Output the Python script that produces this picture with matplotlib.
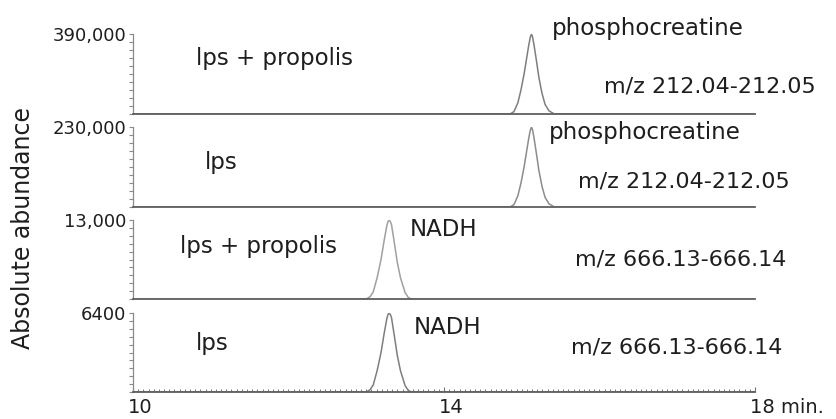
import matplotlib.pyplot as plt
from matplotlib.ticker import MultipleLocator, FixedLocator
import matplotlib.transforms as mtransforms

# retention time (min)
pcr_time = [10.0, 14.85, 14.90, 14.95, 14.99, 15.03, 15.06, 15.09, 15.11, 15.125,
            15.14, 15.16, 15.19, 15.22, 15.26, 15.30, 15.35, 15.42, 18.0]
nadh_time = [10.0, 13.00, 13.05, 13.09, 13.14, 13.19, 13.23, 13.265, 13.28, 13.295,
             13.31, 13.325, 13.36, 13.40, 13.44, 13.50, 13.54, 13.58, 18.0]

# abundance
pcr_propolis = [0, 0, 11700, 54600, 117000, 195000, 265200, 335400, 374400, 390000,
                374400, 331500, 257400, 179400, 101400, 46800, 15600, 0, 0]
pcr_lps = [0, 0, 6900, 32200, 69000, 115000, 156400, 197800, 220800, 230000,
           220800, 195500, 151800, 105800, 59800, 27600, 9200, 0, 0]
nadh_propolis = [0, 0, 390, 1170, 3510, 6500, 9620, 12090, 12740, 13000,
                 12740, 12220, 9360, 5980, 3510, 1040, 260, 0, 0]
nadh_lps = [0, 0, 192, 576, 1728, 3200, 4736, 5952, 6272, 6400,
            6272, 6016, 4608, 2944, 1728, 512, 128, 0, 0]

y_max = [390000, 230000, 13000, 6400]
y_labels = ["390,000", "230,000", "13,000", "6400"]
groups = ["lps + propolis", "lps", "lps + propolis", "lps"]
compounds = ["phosphocreatine", "phosphocreatine", "NADH", "NADH"]
mz_ranges = ["m/z 212.04-212.05", "m/z 212.04-212.05", "m/z 666.13-666.14", "m/z 666.13-666.14"]
x_ticks = [10, 14, 18]
x_labels = ["10", "14", "18 min."]

times = [pcr_time, pcr_time, nadh_time, nadh_time]
traces = [pcr_propolis, pcr_lps, nadh_propolis, nadh_lps]
trace_colors = ['#7e7e7e', '#8c8c8c', '#a0a0a0', '#7e7e7e']

# panel placement in pixels (top, bottom) and text spots in axes fractions
W, H = 837, 419
left, right = 133, 755
panels = [(34, 114), (127, 207), (220, 299), (313, 392)]
group_pos = [(0.227, 0.69), (0.1415, 0.55), (0.201, 0.67), (0.128, 0.62)]
comp_pos = [(0.828, 1.075), (0.823, 0.925), (0.50, 0.886), (0.505, 0.82)]
mz_pos = [(0.9275, 0.344), (0.885, 0.32), (0.881, 0.506), (0.874, 0.557)]

txt = '#1e1e1e'
fig = plt.figure(figsize=(W / 100, H / 100), dpi=100)

for i in range(4):
    top, bot = panels[i]
    ax = fig.add_axes([left / W, 1 - bot / H, (right - left) / W, (bot - top) / H])
    ax.plot(times[i], traces[i], color=trace_colors[i], lw=1.1)
    ax.set_xlim(10, 18)
    ax.set_ylim(0, y_max[i])
    ax.patch.set_alpha(0)
    for s in ['top', 'right']:
        ax.spines[s].set_visible(False)
    ax.spines['left'].set_color('#8a8a8a')
    ax.spines['left'].set_linewidth(0.9)
    ax.spines['bottom'].set_color('#5f5f5f')
    ax.spines['bottom'].set_linewidth(1.3)

    ax.yaxis.set_major_locator(FixedLocator([y_max[i]]))
    ax.set_yticklabels([y_labels[i]])
    ax.yaxis.set_minor_locator(MultipleLocator(y_max[i] / 10))
    ax.tick_params(axis='y', which='both', direction='out', length=3, width=0.8,
                   color='#8a8a8a', labelsize=13, labelcolor=txt, pad=2)

    if i < 3:
        ax.tick_params(axis='x', which='both', bottom=False, labelbottom=False)
    else:
        ax.set_xticks(x_ticks)
        ax.set_xticklabels(x_labels, fontsize=14, color=txt)
        ax.xaxis.set_minor_locator(MultipleLocator(1 / 15))
        ax.tick_params(axis='x', which='major', direction='in', length=3.5, width=0.8,
                       color='#777777', pad=4)
        ax.tick_params(axis='x', which='minor', direction='in', length=2.2, width=0.7,
                       color='#777777')
        labs = ax.get_xticklabels()
        shift = mtransforms.ScaledTranslation(7 / 100, 0, fig.dpi_scale_trans)
        for lab in labs[:2]:
            lab.set_transform(lab.get_transform() + shift)
        labs[2].set_horizontalalignment('left')
        labs[2].set_transform(labs[2].get_transform()
                              + mtransforms.ScaledTranslation(-5 / 100, 0, fig.dpi_scale_trans))

    ax.text(*group_pos[i], groups[i], transform=ax.transAxes, ha='center', va='center',
            fontsize=16.5, color=txt)
    ax.text(*comp_pos[i], compounds[i], transform=ax.transAxes, ha='center', va='center',
            fontsize=16.5, color=txt)
    ax.text(*mz_pos[i], mz_ranges[i], transform=ax.transAxes, ha='center', va='center',
            fontsize=16, color=txt)

fig.text(23 / W, 1 - 228 / H, "Absolute abundance", rotation=90, ha='center', va='center',
         fontsize=17, color=txt)

fig.savefig('out.png', dpi=100, facecolor='white')
